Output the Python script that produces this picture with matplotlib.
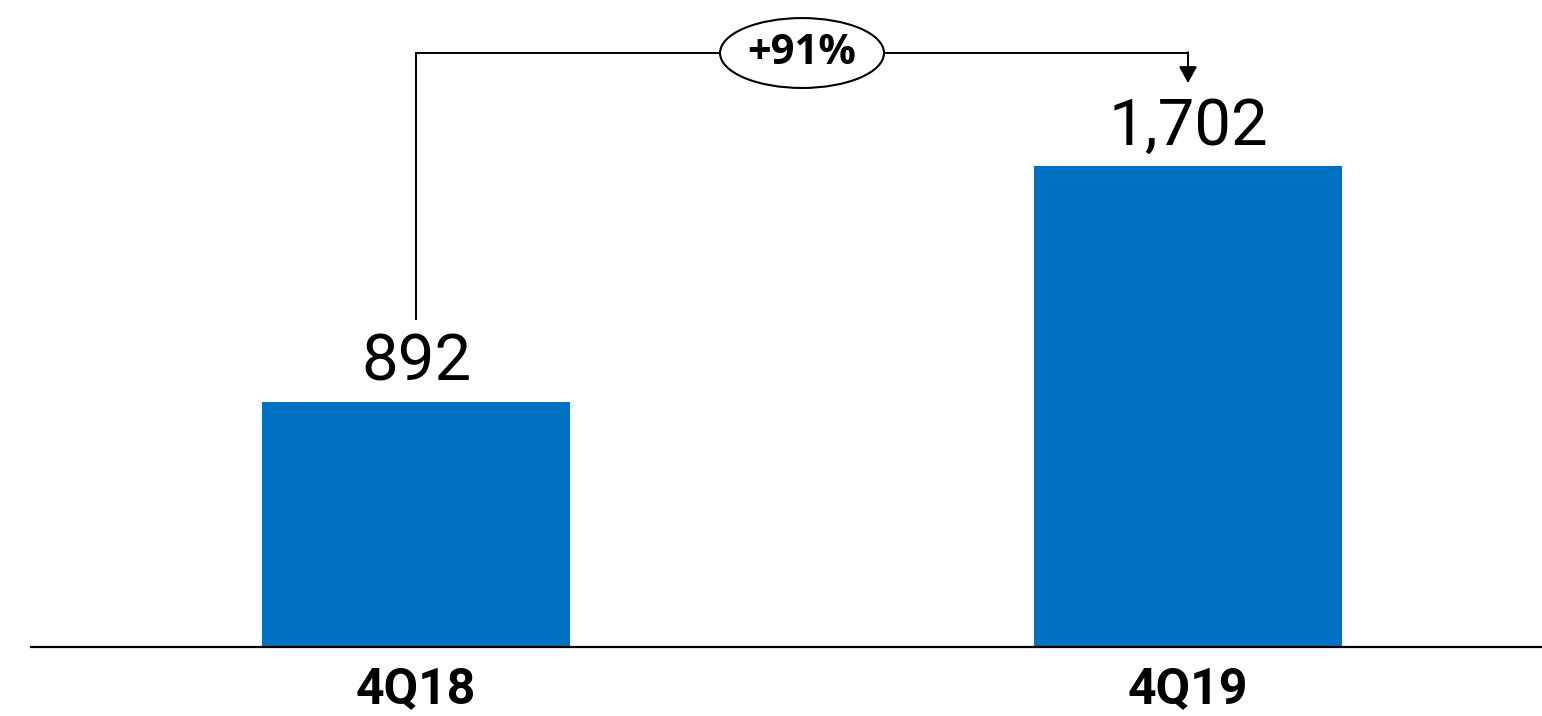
import matplotlib.pyplot as plt
from matplotlib.patches import Ellipse

quarters = ["4Q18", "4Q19"]
revenue = [892, 1702]

bar_color = "#0070C0"

plt.rcParams['font.family'] = ['Roboto', 'DejaVu Sans']

fig = plt.figure(figsize=(15.42, 7.16), dpi=100)
ax = fig.add_axes([31 / 1542, 69 / 716, 1 - 31 / 1542, 647 / 716])

x = list(range(len(quarters)))
ax.bar(x, revenue, width=0.4, color=bar_color, zorder=2)

ax.set_xlim(-0.4987, 1.4585)
ax.set_ylim(50, 2271)

# value labels above the bars
for xi, v in zip(x, revenue):
	ax.annotate(f"{v:,}", (xi, v), xytext=(0, 15), textcoords="offset points",
		ha="center", va="baseline", fontsize=47, color="black")

ax.set_xticks(x)
ax.set_xticklabels(quarters, fontsize=36, fontweight="bold")
ax.tick_params(axis="x", length=0, pad=14)
ax.set_yticks([])
for s in ["left", "right", "top"]:
	ax.spines[s].set_visible(False)
ax.spines["bottom"].set_linewidth(1.6)

# growth bracket between the two quarters
top = 2089
growth = revenue[1] / revenue[0] - 1
ax.plot([0, 0, 1], [revenue[0] + 281, top, top], color="black", lw=1.4,
	solid_capstyle="butt", solid_joinstyle="miter", zorder=3)
ax.annotate("", xy=(1, revenue[1] + 284), xytext=(1, top + 2.5),
	arrowprops=dict(arrowstyle="-|>,head_length=1.0,head_width=0.55",
		color="black", lw=1.4, shrinkA=0, shrinkB=0), zorder=3)
ax.add_patch(Ellipse((0.5, top), 0.2124, 240, facecolor="white",
	edgecolor="black", lw=1.5, zorder=4))
ax.text(0.5, top, f"+{growth:.0%}", ha="center", va="center", fontsize=30,
	fontweight="bold", family=["Open Sans", "DejaVu Sans"], zorder=5)

fig.savefig("out.png", dpi=100)
